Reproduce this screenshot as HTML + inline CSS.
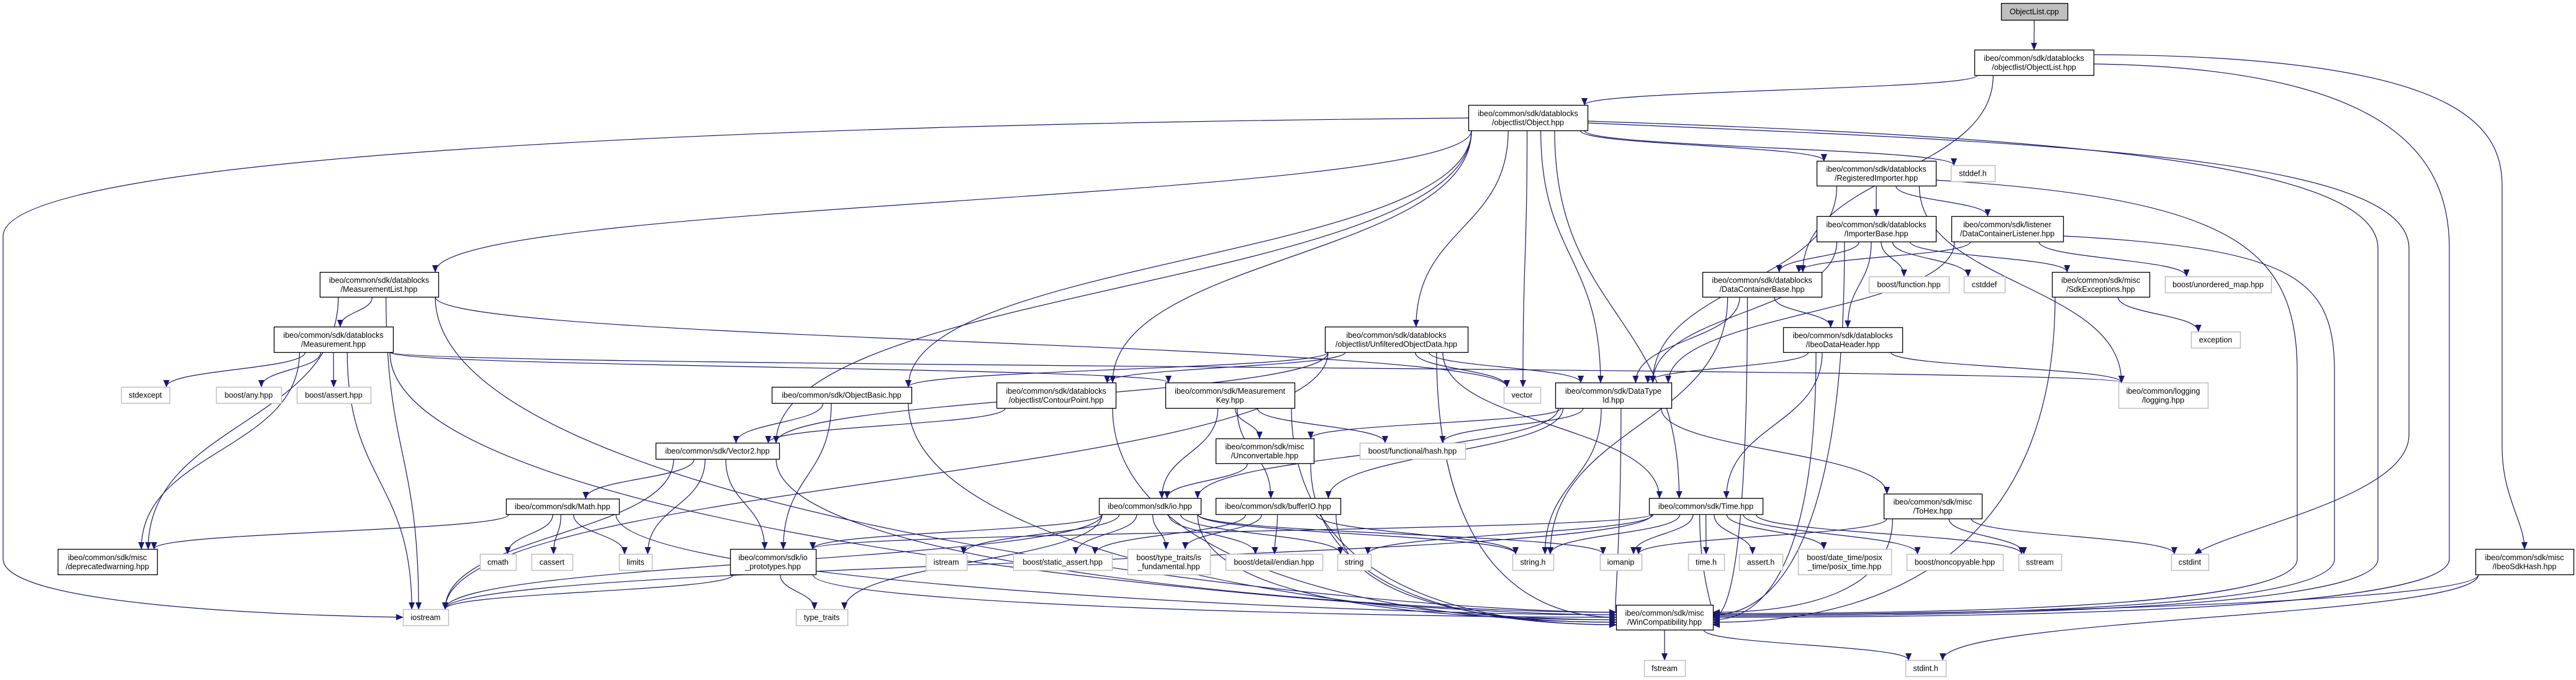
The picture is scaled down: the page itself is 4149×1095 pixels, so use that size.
<!DOCTYPE html>
<html><head><meta charset="utf-8">
<style>
html,body{margin:0;padding:0;background:#fff;width:4149px;height:1095px;overflow:hidden}
svg{display:block}
text{font-family:"Liberation Sans",sans-serif;font-size:12.5px;fill:#000}
</style></head>
<body>
<svg id="g" width="4149" height="1095" viewBox="0 0 4149 1095" xmlns="http://www.w3.org/2000/svg">
<defs><marker id="a" markerWidth="12" markerHeight="10" refX="11" refY="5" orient="auto" markerUnits="userSpaceOnUse"><path d="M0,0 L12,5 L0,10 z" fill="#191970"/></marker></defs>
<g id="E"></g><g id="N"></g>
</svg>
<script>
var N={
cpp:[["ObjectList.cpp"],3223,5,3330,32,2],
olh:[["ibeo/common/sdk/datablocks","/objectlist/ObjectList.hpp"],3180,80,3372,121],
obj:[["ibeo/common/sdk/datablocks","/objectlist/Object.hpp"],2365,169,2557,210],
ml:[["ibeo/common/sdk/datablocks","/MeasurementList.hpp"],515,438,706,478],
meas:[["ibeo/common/sdk/datablocks","/Measurement.hpp"],441,526,633,567],
stdexcept:[["stdexcept"],195,623,273,649,1],
any:[["boost/any.hpp"],348,623,453,649,1],
bassert:[["boost/assert.hpp"],478,623,597,649,1],
ob:[["ibeo/common/sdk/ObjectBasic.hpp"],1243,623,1468,649],
v2:[["ibeo/common/sdk/Vector2.hpp"],1056,713,1255,739],
math:[["ibeo/common/sdk/Math.hpp"],815,803,997,828],
dep:[["ibeo/common/sdk/misc","/deprecatedwarning.hpp"],93,884,253,925],
cmath:[["cmath"],773,892,831,918,1],
cassert:[["cassert"],856,892,922,918,1],
limits:[["limits"],997,892,1050,918,1],
iop:[["ibeo/common/sdk/io","_prototypes.hpp"],1176,884,1314,925],
iostream:[["iostream"],649,981,722,1007,1],
tt:[["type_traits"],1282,981,1365,1007,1],
uod:[["ibeo/common/sdk/datablocks","/objectlist/UnfilteredObjectData.hpp"],2134,526,2364,567],
cp:[["ibeo/common/sdk/datablocks","/objectlist/ContourPoint.hpp"],1605,616,1797,657],
mk:[["ibeo/common/sdk/Measurement","Key.hpp"],1877,616,2085,657],
vector:[["vector"],2422,623,2481,649,1],
dt:[["ibeo/common/sdk/DataType","Id.hpp"],2505,616,2692,657],
unc:[["ibeo/common/sdk/misc","/Unconvertable.hpp"],1958,706,2116,746],
hash:[["boost/functional/hash.hpp"],2190,713,2360,739,1],
io:[["ibeo/common/sdk/io.hpp"],1770,802,1934,828],
bio:[["ibeo/common/sdk/bufferIO.hpp"],1958,802,2159,828],
time:[["ibeo/common/sdk/Time.hpp"],2656,802,2839,828],
istream:[["istream"],1491,892,1557,918,1],
sa:[["boost/static_assert.hpp"],1632,892,1791,918,1],
isf:[["boost/type_traits/is","_fundamental.hpp"],1816,884,1949,925,1],
endian:[["boost/detail/endian.hpp"],1974,892,2130,918,1],
string:[["string"],2154,892,2208,918,1],
stringh:[["string.h"],2436,892,2502,918,1],
iomanip:[["iomanip"],2577,892,2644,918,1],
timeh:[["time.h"],2719,892,2777,918,1],
win:[["ibeo/common/sdk/misc","/WinCompatibility.hpp"],2603,974,2759,1014],
fstream:[["fstream"],2648,1063,2714,1089,1],
ri:[["ibeo/common/sdk/datablocks","/RegisteredImporter.hpp"],2926,259,3118,299],
stddef:[["stddef.h"],3142,266,3213,292,1],
ib:[["ibeo/common/sdk/datablocks","/ImporterBase.hpp"],2926,348,3118,389],
dcl:[["ibeo/common/sdk/listener","/DataContainerListener.hpp"],3143,348,3323,389],
dcb:[["ibeo/common/sdk/datablocks","/DataContainerBase.hpp"],2742,438,2934,478],
func:[["boost/function.hpp"],3010,445,3139,471,1],
cstddef:[["cstddef"],3163,445,3229,471,1],
sdkex:[["ibeo/common/sdk/misc","/SdkExceptions.hpp"],3305,438,3462,478],
umap:[["boost/unordered_map.hpp"],3487,445,3658,471,1],
idh:[["ibeo/common/sdk/datablocks","/IbeoDataHeader.hpp"],2872,527,3064,567],
exc:[["exception"],3529,534,3608,560,1],
log:[["ibeo/common/logging","/logging.hpp"],3412,616,3556,657,1],
tohex:[["ibeo/common/sdk/misc","/ToHex.hpp"],3034,795,3192,835],
asserth:[["assert.h"],2801,892,2871,918,1],
dtm:[["boost/date_time/posix","_time/posix_time.hpp"],2896,884,3046,925,1],
nc:[["boost/noncopyable.hpp"],3071,892,3226,918,1],
sstream:[["sstream"],3251,892,3320,918,1],
cstdint:[["cstdint"],3497,892,3557,918,1],
hsh:[["ibeo/common/sdk/misc","/IbeoSdkHash.hpp"],3987,884,4145,925],
stdinth:[["stdint.h"],3069,1063,3134,1089,1]
};
var CUSTOM={
"obj-iostream":"M2365,190 C1200,200 5,250 5,380 L5,900 C5,970 400,990 649,994",
"olh-win":"M3372,103 C3850,110 3945,250 3945,400 L3945,900 C3945,990 3100,994 2759,994",
"olh-hsh":"M3372,88 C3960,90 4030,200 4030,300 L4030,720 C4030,800 4066,840 4066,884",
"obj-cstdint":"M2557,198 C3300,230 3880,250 3880,400 L3880,700 C3880,800 3600,850 3535,892",
"obj-win":"M2557,195 C3300,220 3830,260 3830,400 L3830,900 C3830,985 3100,992 2759,992",
"dcl-win":"M3323,380 C3700,400 3760,450 3760,600 L3760,900 C3760,985 3100,990 2759,990",
"ri-win":"M3118,290 C3600,320 3700,400 3700,600 L3700,900 C3700,980 3100,988 2759,988",
"obj-iostream2":""
};
var E=[["cpp","olh"],["olh","obj"],["olh","dcb"],["olh","win"],["olh","hsh"],
["obj","ml"],["obj","iostream"],["obj","v2"],["obj","ob"],["obj","cp"],["obj","uod"],["obj","vector"],["obj","dt"],["obj","time"],["obj","ri"],["obj","stddef"],["obj","cstdint"],["obj","win"],
["ml","meas"],["ml","vector"],["ml","dep"],["ml","iostream"],["ml","win"],
["meas","stdexcept"],["meas","any"],["meas","bassert"],["meas","dep"],["meas","iostream"],["meas","win"],["meas","mk"],["meas","log"],
["uod","ob"],["uod","cp"],["uod","v2"],["uod","vector"],["uod","dt"],["uod","time"],["uod","win"],["uod","iostream"],
["ob","v2"],["ob","iop"],["ob","win"],["cp","v2"],["cp","win"],
["mk","unc"],["mk","hash"],["mk","io"],["mk","bio"],["mk","win"],
["v2","math"],["v2","limits"],["v2","iop"],["v2","iostream"],["v2","win"],
["math","dep"],["math","cmath"],["math","cassert"],["math","limits"],["math","win"],
["iop","iostream"],["iop","tt"],["iop","win"],
["io","istream"],["io","sa"],["io","isf"],["io","endian"],["io","string"],["io","stringh"],["io","iostream"],["io","iop"],["io","tt"],["io","win"],["io","iomanip"],
["bio","sa"],["bio","isf"],["bio","endian"],["bio","stringh"],["bio","win"],
["unc","io"],["unc","win"],
["dt","unc"],["dt","hash"],["dt","io"],["dt","bio"],["dt","tohex"],["dt","win"],["dt","stringh"],
["ri","ib"],["ri","dcl"],["ri","dt"],["ri","log"],["ri","win"],
["ib","dcb"],["ib","idh"],["ib","func"],["ib","cstddef"],["ib","sdkex"],["ib","dt"],["ib","win"],
["dcl","dcb"],["dcl","umap"],["dcl","dt"],["dcl","win"],
["dcb","idh"],["dcb","dt"],["dcb","stringh"],["dcb","win"],
["idh","time"],["idh","log"],["idh","dt"],["idh","win"],
["sdkex","exc"],["sdkex","win"],
["time","stringh"],["time","iomanip"],["time","timeh"],["time","asserth"],["time","dtm"],["time","nc"],["time","sstream"],["time","iop"],["time","win"],["time","string"],["time","iostream"],
["tohex","iomanip"],["tohex","sstream"],["tohex","cstdint"],["tohex","win"],
["hsh","win"],["hsh","stdinth"],["win","fstream"],["win","stdinth"]];
var ns="http://www.w3.org/2000/svg",gE=document.getElementById("E"),gN=document.getElementById("N");
function el(t,a,p){var e=document.createElementNS(ns,t);for(var k in a)e.setAttribute(k,a[k]);p.appendChild(e);return e;}
var winIn=0;
E.forEach(function(e){var s=N[e[0]],t=N[e[1]],key=e[0]+"-"+e[1];
 var scx=(s[1]+s[3])/2,tcx=(t[1]+t[3])/2,d;
 if(CUSTOM[key]){d=CUSTOM[key];}
 else if(e[1]=="win" && (s[4]<960)){
  var left=scx<2680; var tx=left?2603:2759, ty=986+(winIn%6)*4; winIn++;
  var sx=scx+Math.max(-(s[3]-s[1])/2+5,Math.min((s[3]-s[1])/2-5,(tcx-scx)*0.15)), sy=s[4];
  d="M"+sx+","+sy+" C"+sx+","+(sy+(ty-sy)*0.7)+" "+(left?tx-Math.min(400,Math.abs(tx-sx)*0.6):tx+Math.min(400,Math.abs(tx-sx)*0.6))+","+ty+" "+tx+","+ty;
 }
 else if(t[2]>s[4]+8){
  var sx=scx+Math.max(-(s[3]-s[1])/2+5,Math.min((s[3]-s[1])/2-5,(tcx-scx)*0.15));
  var tx=tcx+Math.max(-(t[3]-t[1])/2+5,Math.min((t[3]-t[1])/2-5,(scx-tcx)*0.15));
  var sy=s[4],ty=t[2],m=(ty-sy)*0.5;
  d="M"+sx+","+sy+" C"+sx+","+(sy+m)+" "+tx+","+(ty-m)+" "+tx+","+ty;
 } else {
  var sy=(s[2]+s[4])/2,ty=(t[2]+t[4])/2,sx,tx;
  if(tcx>scx){sx=s[3];tx=t[1];}else{sx=s[1];tx=t[3];}
  d="M"+sx+","+sy+" C"+((sx+tx)/2)+","+sy+" "+((sx+tx)/2)+","+ty+" "+tx+","+ty;
 }
 el("path",{d:d,fill:"none",stroke:"#191970","stroke-width":"1.2","marker-end":"url(#a)"},gE);
});
for(var k in N){var n=N[k],ext=n[5];
 el("rect",{x:n[1]+.5,y:n[2]+.5,width:n[3]-n[1],height:n[4]-n[2],fill:ext==2?"#bfbfbf":"#fff",stroke:ext==1?"#bfbfbf":"#000","stroke-width":ext==1?1.5:1.3},gN);
 var cx=(n[1]+n[3])/2,cy=(n[2]+n[4])/2,L=n[0];
 L.forEach(function(s,i){var y=cy+4.5+(i-(L.length-1)/2)*14.5;
  var t=el("text",{x:cx,y:y,"text-anchor":"middle"},gN);t.textContent=s;});
}
</script>
</body></html>
